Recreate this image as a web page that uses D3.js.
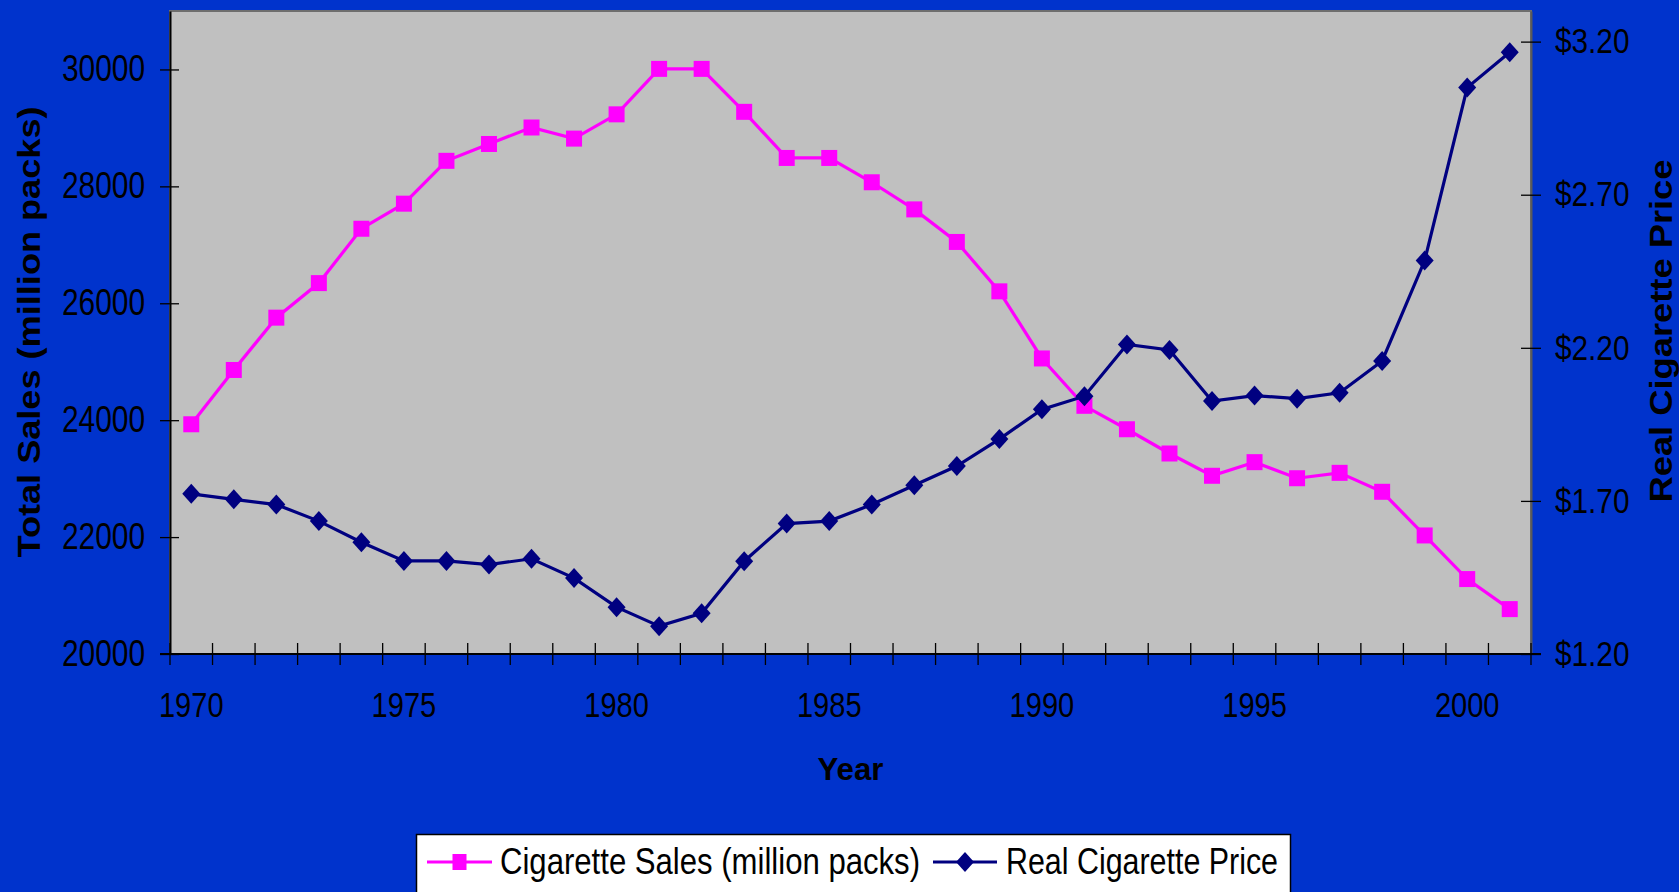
<!DOCTYPE html>
<html>
<head>
<meta charset="utf-8">
<script src="https://cdn.jsdelivr.net/npm/d3@7"></script>
<style>
  body { margin: 0; background: #0033cc; overflow: hidden; }
  text { font-family: "Liberation Sans", Arial, sans-serif; fill: #000; }
</style>
</head>
<body>
<div id="chart"></div>
<script>
var years = [1970, 1971, 1972, 1973, 1974, 1975, 1976, 1977, 1978, 1979,
             1980, 1981, 1982, 1983, 1984, 1985, 1986, 1987, 1988, 1989,
             1990, 1991, 1992, 1993, 1994, 1995, 1996, 1997, 1998, 1999,
             2000, 2001];
var sales = [23930, 24859, 25754, 26345, 27275, 27704, 28437, 28725, 29007, 28817,
             29232, 30010, 30010, 29275, 28486, 28486, 28070, 27606, 27049, 26204,
             25056, 24246, 23845, 23430, 23049, 23282, 23007, 23099, 22775, 22028,
             21282, 20768];
var price = [1.723, 1.705, 1.688, 1.634, 1.565, 1.504, 1.504, 1.492, 1.511, 1.448,
             1.353, 1.291, 1.333, 1.503, 1.626, 1.634, 1.688, 1.751, 1.814, 1.902,
             1.999, 2.042, 2.211, 2.193, 2.026, 2.044, 2.034, 2.053, 2.157, 2.485,
             3.050, 3.165];
var salesTicks = [20000, 22000, 24000, 26000, 28000, 30000];
var priceTicks = [1.20, 1.70, 2.20, 2.70, 3.20];
var yearLabels = [1970, 1975, 1980, 1985, 1990, 1995, 2000];
var seriesNames = ["Cigarette Sales (million packs)", "Real Cigarette Price"];

var W = 1679, H = 892;
var plot = {left: 170, top: 11, right: 1531, bottom: 654};

var svg = d3.select("#chart").append("svg")
    .attr("width", W)
    .attr("height", H);

svg.append("rect")
    .attr("width", W).attr("height", H)
    .attr("fill", "#0033cc");

var x = d3.scaleBand()
    .domain(years)
    .range([plot.left, plot.right]);
var yL = d3.scaleLinear()
    .domain([20000, 31000])
    .range([plot.bottom, plot.top]);
var yR = d3.scaleLinear()
    .domain([1.2, 3.3])
    .range([plot.bottom, plot.top]);

function cx(d) { return x(d) + x.bandwidth() / 2; }

// squeeze text horizontally like the stretched excel picture
function squeeze(sel, k) {
  sel.each(function() {
    var w = this.getComputedTextLength();
    d3.select(this).attr("textLength", w * k).attr("lengthAdjust", "spacingAndGlyphs");
  });
}

// plot area
svg.append("rect")
    .attr("x", plot.left).attr("y", plot.top)
    .attr("width", plot.right - plot.left)
    .attr("height", plot.bottom - plot.top)
    .attr("fill", "#c0c0c0")
    .attr("stroke", "#6e6e6e")
    .attr("stroke-width", 2);

// left axis
var axisL = d3.axisLeft(yL).tickValues(salesTicks).tickSize(0).tickPadding(25)
    .tickFormat(d3.format("d"));
var gL = svg.append("g")
    .attr("transform", "translate(" + plot.left + ",0)")
    .call(axisL);
gL.select(".domain").attr("stroke", "#000").attr("stroke-width", 2);
gL.selectAll(".tick").append("line")
    .attr("x1", -10).attr("x2", 9).attr("stroke", "#000").attr("stroke-width", 1.3);
gL.selectAll(".tick text")
    .style("font-size", "36px");
squeeze(gL.selectAll(".tick text"), 0.83);

// right axis
var axisR = d3.axisRight(yR).tickValues(priceTicks).tickSize(0).tickPadding(24)
    .tickFormat(function(d) { return "$" + d.toFixed(2); });
var gR = svg.append("g")
    .attr("transform", "translate(" + plot.right + ",0)")
    .call(axisR);
gR.select(".domain").attr("stroke", "#5a5a5a").attr("stroke-width", 2);
gR.selectAll(".tick").append("line")
    .attr("x1", -10).attr("x2", 10).attr("stroke", "#000").attr("stroke-width", 1.3);
gR.selectAll(".tick text")
    .style("font-size", "35px");
squeeze(gR.selectAll(".tick text"), 0.85);

// bottom axis: ticks on category boundaries, labels every 5 years
var gX = svg.append("g");
gX.append("line")
    .attr("x1", plot.left - 10).attr("x2", plot.right + 10)
    .attr("y1", plot.bottom).attr("y2", plot.bottom)
    .attr("stroke", "#000").attr("stroke-width", 2);
gX.selectAll(".xtick")
    .data(years.concat(["end"]))
    .enter().append("line")
    .attr("class", "xtick")
    .attr("x1", function(d) { return d === "end" ? plot.right : x(d); })
    .attr("x2", function(d) { return d === "end" ? plot.right : x(d); })
    .attr("y1", plot.bottom - 11).attr("y2", plot.bottom + 11)
    .attr("stroke", "#000").attr("stroke-width", 1.3);
gX.selectAll(".xlabel")
    .data(yearLabels)
    .enter().append("text")
    .attr("class", "xlabel")
    .attr("x", cx)
    .attr("y", 717)
    .attr("text-anchor", "middle")
    .style("font-size", "35px")
    .text(function(d) { return d; });
squeeze(gX.selectAll(".xlabel"), 0.83);

// axis titles
svg.append("text")
    .attr("transform", "translate(40,332) rotate(-90)")
    .attr("text-anchor", "middle")
    .style("font-size", "32px").style("font-weight", "bold")
    .attr("textLength", 451).attr("lengthAdjust", "spacingAndGlyphs")
    .text("Total Sales (million packs)");
svg.append("text")
    .attr("transform", "translate(1672,331) rotate(-90)")
    .attr("text-anchor", "middle")
    .style("font-size", "32px").style("font-weight", "bold")
    .attr("textLength", 343).attr("lengthAdjust", "spacingAndGlyphs")
    .text("Real Cigarette Price");
svg.append("text")
    .attr("x", (plot.left + plot.right) / 2)
    .attr("y", 780)
    .attr("text-anchor", "middle")
    .style("font-size", "32px").style("font-weight", "bold")
    .attr("textLength", 66).attr("lengthAdjust", "spacingAndGlyphs")
    .text("Year");

// series
var diamond = "M0,-10L9,0L0,10L-9,0Z";
var sq = 16;

var lineSales = d3.line()
    .x(function(d, i) { return cx(years[i]); })
    .y(function(d) { return yL(d); });
var linePrice = d3.line()
    .x(function(d, i) { return cx(years[i]); })
    .y(function(d) { return yR(d); });

svg.append("path")
    .datum(sales)
    .attr("d", lineSales)
    .attr("fill", "none")
    .attr("stroke", "#ff00ff")
    .attr("stroke-width", 3.2);
svg.selectAll(".sq")
    .data(sales)
    .enter().append("rect")
    .attr("class", "sq")
    .attr("x", function(d, i) { return cx(years[i]) - sq / 2; })
    .attr("y", function(d) { return yL(d) - sq / 2; })
    .attr("width", sq).attr("height", sq)
    .attr("fill", "#ff00ff");

svg.append("path")
    .datum(price)
    .attr("d", linePrice)
    .attr("fill", "none")
    .attr("stroke", "#000080")
    .attr("stroke-width", 3.2);
svg.selectAll(".dm")
    .data(price)
    .enter().append("path")
    .attr("class", "dm")
    .attr("d", diamond)
    .attr("transform", function(d, i) { return "translate(" + cx(years[i]) + "," + yR(d) + ")"; })
    .attr("fill", "#000080");

// legend
var lg = svg.append("g");
lg.append("rect")
    .attr("x", 416.5).attr("y", 834.5)
    .attr("width", 874).attr("height", 70)
    .attr("fill", "#fff").attr("stroke", "#000").attr("stroke-width", 1.5);

var legendItems = [
  {name: seriesNames[0], color: "#ff00ff", x0: 427, x1: 492, tx: 500, w: 420, mark: "sq"},
  {name: seriesNames[1], color: "#000080", x0: 933, x1: 997, tx: 1006, w: 272, mark: "dm"}
];
legendItems.forEach(function(it) {
  lg.append("line")
      .attr("x1", it.x0).attr("x2", it.x1)
      .attr("y1", 862).attr("y2", 862)
      .attr("stroke", it.color).attr("stroke-width", 3);
  var mx = (it.x0 + it.x1) / 2;
  if (it.mark === "sq") {
    lg.append("rect")
        .attr("x", mx - 7).attr("y", 862 - 8)
        .attr("width", 14).attr("height", 16)
        .attr("fill", it.color);
  } else {
    lg.append("path")
        .attr("d", diamond)
        .attr("transform", "translate(" + mx + ",862)")
        .attr("fill", it.color);
  }
  lg.append("text")
      .attr("x", it.tx).attr("y", 874)
      .style("font-size", "36px")
      .attr("textLength", it.w).attr("lengthAdjust", "spacingAndGlyphs")
      .text(it.name);
});
</script>
</body>
</html>
